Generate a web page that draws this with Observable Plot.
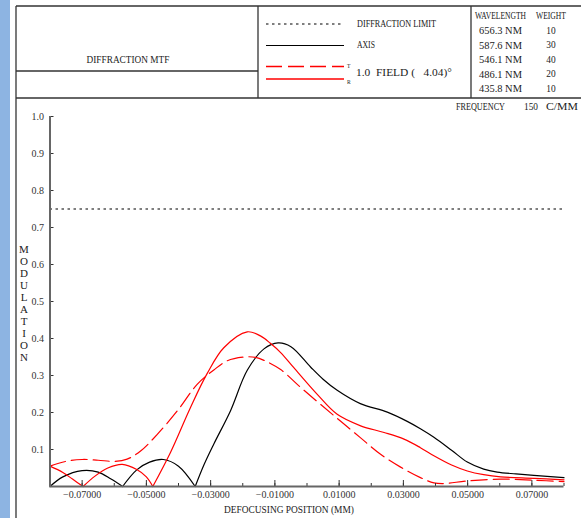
<!DOCTYPE html>
<html><head><meta charset="utf-8">
<script src="https://cdn.jsdelivr.net/npm/d3@7"></script>
<script src="https://cdn.jsdelivr.net/npm/@observablehq/plot@0.6"></script>
<style>
body{margin:0;background:#fff;}
#wrap{position:relative;width:581px;height:518px;overflow:hidden;background:#fff;}
#chart{position:absolute;left:0;top:0;}
#hdr{position:absolute;left:0;top:0;}
#bar{position:absolute;left:0;top:0;width:10px;height:518px;background:#8db4e2;}
</style></head><body>
<div id="wrap"><div id="chart"></div><svg id="hdr" width="581" height="518"></svg><div id="bar"></div></div>
<script>
// ---- data ----
const axisX = [-0.0800,-0.0760,-0.0700,-0.0650,-0.0610,-0.0574,-0.0530,-0.0490,-0.0447,-0.0400,-0.0348,-0.0320,-0.0290,-0.0238,-0.0186,-0.0134,-0.0090,-0.0050,0.0011,0.0050,0.0094,0.0166,0.0250,0.0312,0.0353,0.0395,0.0450,0.0499,0.0550,0.0592,0.0650,0.0706,0.0800];
const axisMTF = [0.000,0.026,0.043,0.039,0.020,0.000,0.045,0.066,0.073,0.055,0.000,0.060,0.115,0.205,0.314,0.372,0.388,0.378,0.323,0.290,0.260,0.224,0.201,0.176,0.156,0.133,0.098,0.066,0.047,0.039,0.034,0.030,0.024];

const sagX = [-0.0800,-0.0760,-0.0730,-0.0697,-0.0660,-0.0620,-0.0575,-0.0530,-0.0500,-0.0480,-0.0425,-0.0363,-0.0311,-0.0259,-0.0186,-0.0145,-0.0114,-0.0082,-0.0041,0.0032,0.0094,0.0167,0.0240,0.0302,0.0353,0.0395,0.0450,0.0499,0.0550,0.0603,0.0707,0.0800];
const sagMTF = [0.055,0.038,0.020,0.000,0.028,0.050,0.060,0.046,0.026,0.000,0.092,0.213,0.305,0.375,0.418,0.407,0.387,0.362,0.321,0.249,0.195,0.164,0.146,0.128,0.105,0.083,0.058,0.042,0.032,0.026,0.022,0.018];

const tanX = [-0.0800,-0.0750,-0.0700,-0.0650,-0.0600,-0.0560,-0.0518,-0.0466,-0.0404,-0.0342,-0.0290,-0.0248,-0.0196,-0.0160,-0.0134,-0.0082,-0.0020,0.0042,0.0104,0.0166,0.0229,0.0290,0.0353,0.0395,0.0426,0.0499,0.0603,0.0707,0.0800];
const tanMTF = [0.055,0.068,0.073,0.071,0.068,0.074,0.096,0.141,0.204,0.276,0.315,0.340,0.350,0.349,0.341,0.316,0.268,0.222,0.177,0.132,0.087,0.053,0.024,0.010,0.008,0.015,0.020,0.017,0.013];

const diffractionLimit = [0.75];
const yTicks = [0.1,0.2,0.3,0.4,0.5,0.6,0.7,0.8,0.9,1.0];
const xMinorTicks = [-0.07,-0.06,-0.05,-0.04,-0.03,-0.02,-0.01,0,0.01,0.02,0.03,0.04,0.05,0.06,0.07,0.08];
const xMajorTicks = [-0.07,-0.05,-0.03,-0.01,0.01,0.03,0.05,0.07];

const wavelengths = ["656.3","587.6","546.1","486.1","435.8"];
const weights = [10,30,40,20,10];
const legendLabels = ["DIFFRACTION LIMIT","AXIS","1.0  FIELD (   4.04)\u00b0"];
const frequency = 150;

// split curves into separate humps at zero crossings (cusps)
function rows(xs, ys, name) {
  const out = []; let seg = 0;
  xs.forEach((x, i) => {
    out.push({x, y: ys[i], key: name + seg});
    if (ys[i] === 0 && i > 0 && i < xs.length - 1) { seg++; out.push({x, y: ys[i], key: name + seg}); }
  });
  return out;
}
const axisRows = rows(axisX, axisMTF, "a");
const sagRows = rows(sagX, sagMTF, "s");
const tanRows = rows(tanX, tanMTF, "t");

const FONT = "'Liberation Serif', serif";
const fmtX = d => (d < 0 ? "\u2212" : "") + Math.abs(d).toFixed(5);

const plot = Plot.plot({
  width: 581, height: 518,
  marginLeft: 49.5, marginRight: 17.5, marginTop: 116, marginBottom: 32,
  x: {domain: [-0.08, 0.08]},
  y: {domain: [0, 1]},
  style: {fontFamily: FONT, fontSize: "10px", color: "#333", background: "transparent"},
  marks: [
    Plot.ruleY(diffractionLimit, {stroke: "#000", strokeWidth: 1.2, strokeDasharray: "2.5,3.5"}),
    Plot.line(axisRows, {x: "x", y: "y", z: "key", stroke: "#000", strokeWidth: 1.2, curve: "catmull-rom"}),
    Plot.line(sagRows, {x: "x", y: "y", z: "key", stroke: "#ff0000", strokeWidth: 1.2, curve: "catmull-rom"}),
    Plot.line(tanRows, {x: "x", y: "y", z: "key", stroke: "#ff0000", strokeWidth: 1.2, strokeDasharray: "16,6", curve: "catmull-rom"}),
    Plot.axisY(yTicks, {tickSize: -4, tickPadding: 10, tickFormat: d => d.toFixed(1), stroke: "#333", label: null}),
    Plot.axisX(xMinorTicks, {tickSize: -3, tickFormat: () => "", stroke: "#333", label: null}),
    Plot.axisX(xMajorTicks, {tickSize: -6, tickPadding: 10, tickFormat: fmtX, stroke: "#333", label: null}),
    Plot.ruleX([-0.08], {y1: 0, y2: 1, stroke: "#666", strokeWidth: 2}),
    Plot.ruleY([0], {stroke: "#666", strokeWidth: 2})
  ]
});
document.getElementById("chart").append(plot);

// ---- header / frame ----
const hdr = d3.select("#hdr");
const ln = (x1, y1, x2, y2, stroke = "#333", w = 1.3, dash = null) => {
  const l = hdr.append("line").attr("x1", x1).attr("y1", y1).attr("x2", x2).attr("y2", y2)
    .attr("stroke", stroke).attr("stroke-width", w);
  if (dash) l.attr("stroke-dasharray", dash);
};
// text squeezed horizontally (narrow CJK-style serif in the reference)
const tx = (x, y, s, opts = {}) => {
  const g = hdr.append("g");
  const t = g.append("text").attr("x", 0).attr("y", 0).text(s)
    .attr("font-family", FONT).attr("font-size", opts.size || 11)
    .attr("fill", opts.fill || "#222").attr("dominant-baseline", "central")
    .attr("text-anchor", opts.anchor || "start")
    .style("white-space", "pre");
  let sx = opts.sx || 1;
  if (opts.len) sx = opts.len / t.node().getComputedTextLength();
  g.attr("transform", `translate(${x},${y}) scale(${sx},1)`);
  return t;
};
ln(16, 6, 581, 6); ln(16, 98, 581, 98); ln(16, 6, 16, 518);
ln(258, 6, 258, 98); ln(471, 6, 471, 98); ln(16, 71, 258, 71);

tx(128, 59, "DIFFRACTION MTF", {anchor: "middle", len: 83});
ln(266, 24, 344, 24, "#000", 1.2, "2.5,3.5");
tx(357, 23.5, legendLabels[0], {len: 79});
ln(266, 45.5, 344, 45.5, "#000", 1.2);
tx(357, 44.5, legendLabels[1], {len: 18});
ln(266, 66.5, 344, 66.5, "#ff0000", 1.3, "16,6");
ln(266, 79, 344, 79, "#ff0000", 1.3);
tx(347, 65, "T", {size: 7, sx: 0.8});
tx(347, 81, "R", {size: 7, sx: 0.8});
tx(356, 72.5, legendLabels[2], {len: 96});

tx(475, 15.5, "WAVELENGTH", {len: 51});
tx(536, 15.5, "WEIGHT", {len: 30});
wavelengths.forEach((w, i) => {
  const y = 30 + i * 14.5;
  tx(479, y, w + " NM", {len: 43});
  tx(551, y, String(weights[i]), {anchor: "middle", sx: 0.85});
});
tx(456, 106, "FREQUENCY", {len: 49});
tx(531, 106, String(frequency), {anchor: "middle", sx: 0.85});
tx(546, 106, "C/MM", {len: 32});

tx(289, 509, "DEFOCUSING POSITION (MM)", {anchor: "middle", len: 130});
hdr.append("text").attr("x", 24).attr("y", 243).text("MODULATION")
  .attr("font-family", FONT).attr("font-size", 11).attr("fill", "#222")
  .style("writing-mode", "vertical-lr").style("text-orientation", "upright");
</script>
</body></html>
